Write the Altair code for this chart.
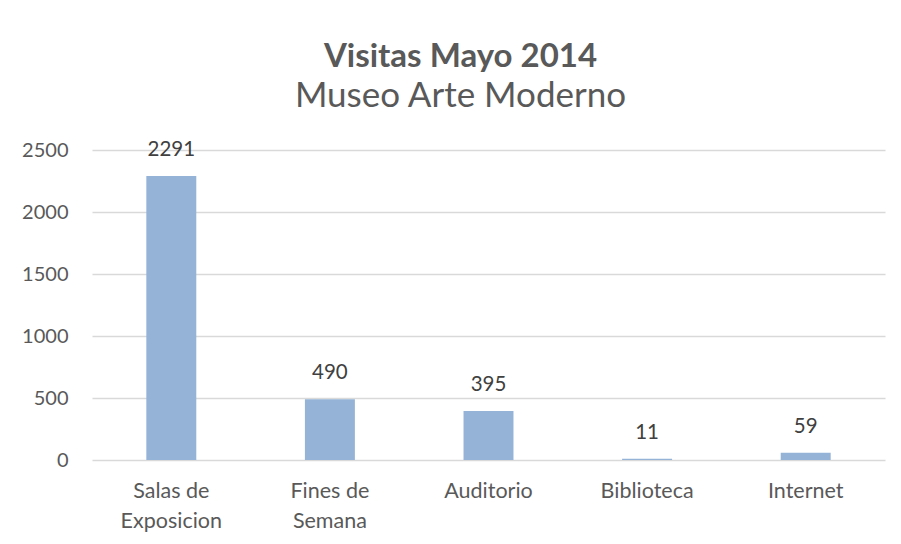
import altair as alt
import pandas as pd

categorias = ["Salas de|Exposicion", "Fines de|Semana", "Auditorio", "Biblioteca", "Internet"]
visitas = [2291, 490, 395, 11, 59]
y_ticks = [0, 500, 1000, 1500, 2000, 2500]

df = pd.DataFrame({"categoria": categorias, "visitas": visitas})

FONT = "Lato"
GREY = "#595959"

x_enc = alt.X(
    "categoria:N",
    sort=categorias,
    title=None,
    scale=alt.Scale(paddingInner=0.685, paddingOuter=0.3425),
    axis=alt.Axis(
        labelExpr="split(datum.label, '|')",
        labelAngle=0,
        labelFont=FONT,
        labelFontSize=21.5,
        labelColor=GREY,
        labelLineHeight=30,
        labelPadding=31,
        labelBaseline="middle",
        domain=False,
        ticks=False,
        grid=False,
    ),
)
y_enc = alt.Y(
    "visitas:Q",
    title=None,
    scale=alt.Scale(domain=[0, 2500], nice=False),
    axis=alt.Axis(
        values=y_ticks,
        format="d",
        labelFont=FONT,
        labelFontSize=20,
        labelColor=GREY,
        labelPadding=24,
        domain=False,
        ticks=False,
        gridColor="#D9D9D9",
        gridWidth=1.3,
    ),
)

base = alt.Chart(df).encode(x=x_enc, y=y_enc)
bars = base.mark_bar(color="#95B3D7")
labels = base.mark_text(
    font=FONT, fontSize=20.5, color="#404040", baseline="middle", dy=-26
).encode(text="visitas:Q")

chart = (
    alt.layer(bars, labels)
    .properties(
        width=793,
        height=310,
        background="white",
        autosize=alt.AutoSizeParams(type="none"),
        padding={"left": 84, "top": 142, "right": 8, "bottom": 76},
        title=alt.TitleParams(
            text="Visitas Mayo 2014",
            subtitle="Museo Arte Moderno",
            anchor="middle",
            dx=-28,
            offset=26,
            font=FONT,
            fontSize=33,
            fontWeight="bold",
            color=GREY,
            subtitleFont=FONT,
            subtitleFontSize=35,
            subtitleColor=GREY,
            subtitlePadding=5,
        ),
    )
    .configure_view(strokeWidth=0)
    .configure_axis(domain=False, ticks=False)
    .configure_axisX(grid=False)
)

chart.save("out.html", embed_options={"renderer": "svg", "actions": False})
